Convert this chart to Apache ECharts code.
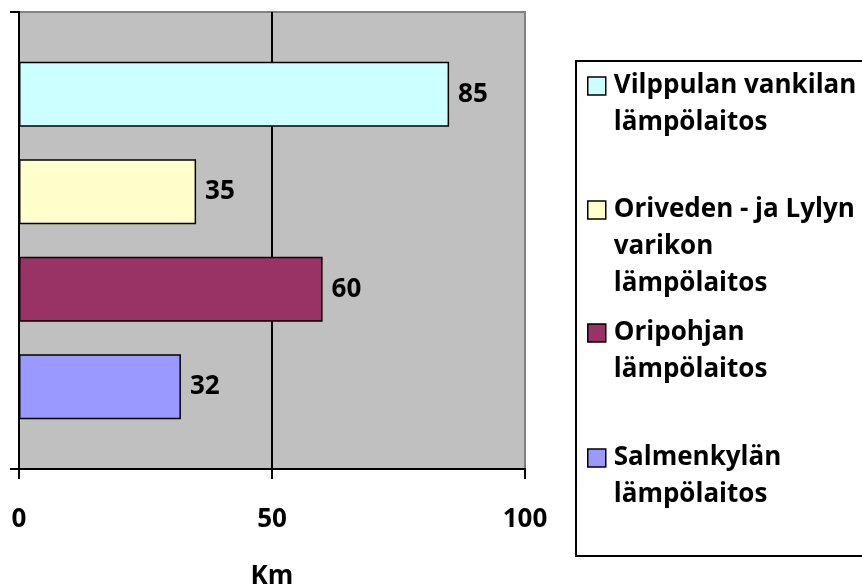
<!DOCTYPE html>
<html>
<head>
<meta charset="utf-8">
<script src="https://cdn.jsdelivr.net/npm/echarts@6/dist/echarts.min.js"></script>
<style>
  html, body { margin: 0; padding: 0; background: #fff; }
  #main { width: 862px; height: 588px; }
</style>
</head>
<body>
<div id="main"></div>
<script>
// data
var categories = [''];
var seriesNames = [
  'Vilppulan vankilan lämpölaitos',
  'Oriveden - ja Lylyn varikon lämpölaitos',
  'Oripohjan lämpölaitos',
  'Salmenkylän lämpölaitos'
];
var kmValues = [85, 35, 60, 32];
var legendLines = [
  ['Vilppulan vankilan', 'lämpölaitos'],
  ['Oriveden - ja Lylyn', 'varikon', 'lämpölaitos'],
  ['Oripohjan', 'lämpölaitos'],
  ['Salmenkylän', 'lämpölaitos']
];
var xMin = 0, xMax = 100, xStep = 50;
var axisName = 'Km';

var colors = ['#CCFFFF', '#FFFFCC', '#993366', '#9999FF'];
var font = 'Open Sans';
var fs = 26;
var lineH = 37;
var legendCenters = [86, 210, 333, 458];

var chart = echarts.init(document.getElementById('main'), null, { renderer: 'canvas' });

var series = seriesNames.map(function (name, i) {
  return {
    name: name,
    type: 'bar',
    data: [kmValues[i]],
    barWidth: 65,
    barGap: '50%',
    itemStyle: { color: colors[i], borderColor: '#000', borderWidth: 1.5 },
    label: {
      show: true,
      position: 'right',
      distance: 9,
      color: '#000',
      fontFamily: font,
      fontWeight: 'bold',
      fontSize: fs
    }
  };
});

// one legend per entry, so the icon sits on the first text line
var legends = seriesNames.map(function (name, i) {
  var lines = legendLines[i];
  var total = lines.length * 2 - 1;
  var pad = new Array(lines.length).join('\n');
  return {
    data: [name],
    left: 587,
    top: legendCenters[i] - total * lineH / 2,
    padding: 0,
    itemWidth: 18,
    itemHeight: 18,
    icon: 'rect',
    itemStyle: { borderColor: '#000', borderWidth: 1.5 },
    selectedMode: false,
    formatter: function () { return pad + lines.join('\n'); },
    textStyle: {
      fontFamily: font,
      fontWeight: 'bold',
      fontSize: fs,
      lineHeight: lineH,
      color: '#000',
      padding: [0, 0, 0, 3]
    }
  };
});

var option = {
  animation: false,
  backgroundColor: '#fff',
  color: colors,
  grid: {
    left: 19, right: 337, top: 12, bottom: 119,
    outerBoundsMode: 'none',
    containLabel: false,
    show: true,
    backgroundColor: '#C0C0C0',
    borderColor: '#808080',
    borderWidth: 2
  },
  legend: legends,
  xAxis: {
    type: 'value',
    min: xMin,
    max: xMax,
    interval: xStep,
    name: axisName,
    nameLocation: 'middle',
    nameGap: 95,
    nameTextStyle: { fontFamily: font, fontWeight: 'bold', fontSize: fs, color: '#000', verticalAlign: 'top' },
    axisLine: { show: true, lineStyle: { color: '#000', width: 2 } },
    axisTick: { show: true, length: 10, lineStyle: { color: '#000', width: 2 } },
    axisLabel: { margin: 38, fontFamily: font, fontWeight: 'bold', fontSize: fs, color: '#000' },
    splitLine: { show: true, lineStyle: { color: ['#000', '#000', '#808080'], width: 2 } }
  },
  yAxis: {
    type: 'category',
    data: categories,
    inverse: true,
    axisLine: { show: true, lineStyle: { color: '#000', width: 2 } },
    axisTick: { show: true, length: 9, lineStyle: { color: '#000', width: 2 } },
    axisLabel: { show: false },
    splitLine: { show: false }
  },
  graphic: [{
    type: 'rect',
    shape: { x: 576, y: 61, width: 320, height: 495 },
    style: { fill: 'none', stroke: '#000', lineWidth: 2 },
    z: -1
  }],
  series: series
};

chart.setOption(option);
</script>
</body>
</html>
